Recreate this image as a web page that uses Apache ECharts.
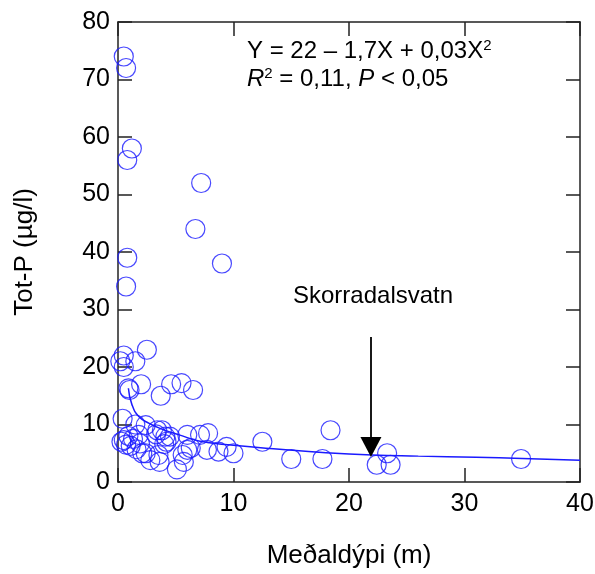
<!DOCTYPE html>
<html>
<head>
<meta charset="utf-8">
<script src="https://cdn.jsdelivr.net/npm/echarts@6/dist/echarts.min.js"></script>
<style>
html,body{margin:0;padding:0;background:#fff;}
#chart{width:595px;height:574px;}
</style>
</head>
<body>
<div id="chart"></div>
<script>
// Observed lakes: mean depth (m) and Tot-P (µg/l)
var depth = [0.5,0.7,1.2,0.8,7.2,6.7,0.8,9.0,0.7,2.5,0.5,1.5,0.2,0.5,2.0,0.9,1.0,3.7,4.6,5.5,6.5,
             0.4,1.5,2.4,3.4,3.8,4.1,1.8,0.9,0.5,0.3,1.1,1.9,1.6,2.1,2.4,3.3,4.5,4.2,4.0,6.0,7.1,7.8,
             6.3,6.0,5.6,5.7,5.1,3.5,2.8,3.6,7.7,8.7,9.4,10.0,12.5,15.0,17.7,18.4,22.4,23.3,23.6,34.9,1.3,0.7];
var totP  = [74,72,58,56,52,44,39,38,34,23,22,21,21,20,17,16.3,16,15,17,17.2,16,
             11,10,9.9,9,9,7.9,8.2,8,7.3,7,6.3,6.7,5.7,5,5,8.3,7.9,7,6.6,8.2,8.2,8.5,
             5.9,5.6,4.7,3.5,2.2,4.7,3.8,3.5,5.6,5.3,6.1,5,7,4,4,9,3,5,3,4,7.5,6.5];
// Fitted curve
var fitX = [0.9,1.2,1.8,2.7,3.8,5.3,7.1,10,14,18,22,26,31,35,40];
var fitY = [16.3,13.5,11.4,10.2,9.2,8.2,7.1,6.4,5.7,5.1,4.7,4.5,4.3,4.1,3.8];
// Arrow pointing at Skorradalsvatn
var arrowX = 21.9, arrowTop = 25.2, arrowEnd = 6.1;
var xTicks = [0,10,20,30,40];
var yTicks = [0,10,20,30,40,50,60,70,80];

var FONT = 'Liberation Sans, Arial, sans-serif';
var BLUE = '#1a1aff';

var pts = depth.map(function(d,i){ return [d, totP[i]]; });
var curve = fitX.map(function(d,i){ return [d, fitY[i]]; });

var axisCommon = {
  axisLine:{show:true, onZero:false, lineStyle:{color:'#222', width:1.5}},
  axisTick:{show:true, inside:true, length:14, lineStyle:{color:'#222', width:1.5}},
  splitLine:{show:false}
};

var chart = echarts.init(document.getElementById('chart'), null, {renderer:'canvas'});
chart.setOption({
  animation:false,
  backgroundColor:'#fff',
  grid:{left:118, right:15, top:22, bottom:92, containLabel:false, outerBoundsMode:'none'},
  xAxis:[
    Object.assign({type:'value', min:xTicks[0], max:xTicks[xTicks.length-1], interval:10, position:'bottom',
      name:'Meðaldýpi (m)', nameLocation:'middle', nameGap:61,
      nameTextStyle:{fontFamily:FONT, fontSize:26, color:'#000'},
      axisLabel:{show:true, margin:10, fontFamily:FONT, fontSize:25, color:'#000'}}, axisCommon),
    Object.assign({type:'value', min:0, max:40, interval:10, position:'top',
      axisLabel:{show:false}}, axisCommon)
  ],
  yAxis:[
    Object.assign({type:'value', min:yTicks[0], max:yTicks[yTicks.length-1], interval:10, position:'left',
      name:'Tot-P (µg/l)', nameLocation:'middle', nameGap:80, nameRotate:90,
      nameTextStyle:{fontFamily:FONT, fontSize:26, color:'#000'},
      axisLabel:{show:true, margin:8, fontFamily:FONT, fontSize:25, color:'#000'}}, axisCommon),
    Object.assign({type:'value', min:0, max:80, interval:10, position:'right',
      axisLabel:{show:false}}, axisCommon)
  ],
  series:[
    {type:'scatter', data:pts, symbol:'circle', symbolSize:19,
     itemStyle:{color:'rgba(0,0,0,0)', borderColor:BLUE, borderWidth:1.2},
     emphasis:{disabled:true}, z:3,
     markLine:{silent:true, symbol:['none','triangle'], symbolSize:[21,20],
       lineStyle:{color:'#000', width:1.8, type:'solid'},
       label:{show:false},
       data:[[{coord:[arrowX, arrowTop]},{coord:[arrowX, arrowEnd]}]]}
    },
    {type:'line', data:curve, smooth:true, showSymbol:false, symbol:'none',
     lineStyle:{color:BLUE, width:1.5}, z:2}
  ],
  graphic:[
    {type:'text', left:247, top:38, style:{
      text:'Y = 22 – 1,7X + 0,03X{sup|2}',
      font:'24px ' + FONT, fill:'#000',
      rich:{sup:{fontSize:15, fontFamily:FONT, verticalAlign:'top', padding:[0,0,12,0]}}
    }},
    {type:'text', left:247, top:66, style:{
      text:'{i|R}{sup|2} = 0,11, {i|P} < 0,05',
      font:'24px ' + FONT, fill:'#000',
      rich:{i:{fontStyle:'italic', fontSize:24, fontFamily:FONT}, sup:{fontSize:15, fontFamily:FONT, verticalAlign:'top', padding:[0,0,12,0]}}
    }},
    {type:'text', left:293, top:284, style:{
      text:'Skorradalsvatn', font:'24px ' + FONT, fill:'#000'
    }}
  ]
});
</script>
</body>
</html>
